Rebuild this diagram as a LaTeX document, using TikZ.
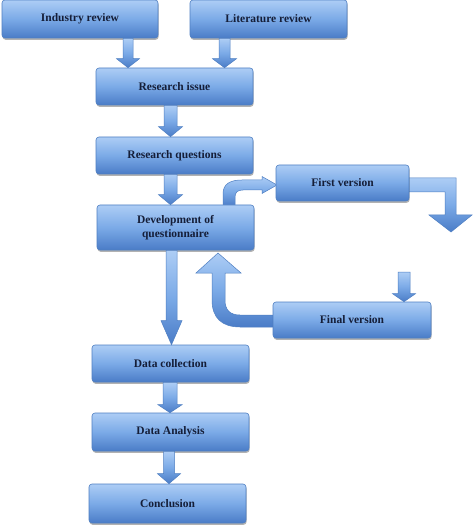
\documentclass[tikz,border=0pt]{standalone}
\usepackage{fontspec}
\setmainfont{Liberation Serif}
\usetikzlibrary{shadows,calc}
\definecolor{bxtop}{HTML}{ADCDF5}
\definecolor{bxmid}{HTML}{7BAAE7}
\definecolor{bxbot}{HTML}{4A7CC7}
\definecolor{bxline}{HTML}{4F7FC2}
\definecolor{txt}{HTML}{151E38}
\tikzset{
 box/.style={rectangle, rounded corners=3pt, draw=bxline, line width=0.6pt,
   top color=bxtop, bottom color=bxbot, middle color=bxmid,
   drop shadow={shadow xshift=0.6pt, shadow yshift=-1.8pt, fill=black, opacity=0.3},
   text=txt, font=\bfseries\fontsize{11.5}{13.5}\selectfont, align=center, inner sep=0pt},
 barrow/.style={draw=bxline, line width=0.5pt, top color=bxtop, bottom color=bxbot, middle color=bxmid},
}
% #1 start, #2 end (y only), #3 half shaft, #4 half head, #5 head length
\newcommand{\blkdown}[5]{%
 \path[barrow] let \p1=(#1), \p2=(#2) in
   (\x1-#3pt,\y1) -- (\x1+#3pt,\y1) -- (\x1+#3pt,\y2+#5pt) -- (\x1+#4pt,\y2+#5pt)
   -- (\x1,\y2) -- (\x1-#4pt,\y2+#5pt) -- (\x1-#3pt,\y2+#5pt) -- cycle;}
\begin{document}
\begin{tikzpicture}[x=1pt,y=-1pt]
\useasboundingbox (0,0) rectangle (474,526);
\fill[white] (0,0) rectangle (474,526);

% curved / bent block arrows drawn behind boxes
\path[barrow] (223,206) -- (223,194) .. controls (223,184) and (230,180) .. (242,180)
  -- (262,180) -- (262,176.5) -- (277,185) -- (262,193.5) -- (262,190) -- (243,190)
  .. controls (238,190) and (235,192) .. (235,197) -- (235,206) -- cycle;
\path[barrow] (408,178) -- (456,178) -- (456,215) -- (472,215) -- (451,232)
  -- (429,215) -- (445,215) -- (445,192) -- (408,192) -- cycle;
\path[barrow] (274,315) -- (240,315) .. controls (230,315) and (225,310) .. (225,300)
  -- (225,273) -- (241,273) -- (218,253) -- (196,273) -- (212,273) -- (212,300)
  .. controls (212,318) and (222,327) .. (240,327) -- (274,327) -- cycle;

\node[box, minimum width=156pt, minimum height=38pt] (ind) at (80,19) {Industry review};
\node[box, minimum width=157pt, minimum height=38pt] (lit) at (268.5,19) {Literature review};
\node[box, minimum width=157pt, minimum height=37pt] (ri) at (174.5,86.5) {Research issue};
\node[box, minimum width=157pt, minimum height=37pt] (rq) at (174.5,155.5) {Research questions};
\node[box, minimum width=157pt, minimum height=45pt] (dev) at (175.5,227.5) {Development of\\questionnaire};
\node[box, minimum width=133pt, minimum height=36pt] (fv) at (342.5,183) {First version};
\node[box, minimum width=158pt, minimum height=36pt] (fin) at (352,320) {Final version};
\node[box, minimum width=157pt, minimum height=37pt] (dc) at (170.5,363.5) {Data collection};
\node[box, minimum width=157pt, minimum height=38pt] (da) at (170.5,432) {Data Analysis};
\node[box, minimum width=157pt, minimum height=39pt] (con) at (167.5,503.5) {Conclusion};

\coordinate (fvin) at (404,272);

\blkdown{$(ind.south)+(48,0)$}{ri.north}{5}{11.5}{9}
\blkdown{$(lit.south)+(-44,0)$}{ri.north}{5.5}{12}{9}
\blkdown{$(ri.south)+(-4,0)$}{rq.north}{6.5}{12}{10}
\blkdown{$(rq.south)+(-4,0)$}{dev.north}{6.5}{12}{10}
\blkdown{$(dev.south)+(-4,0)$}{dc.north}{5.5}{10.5}{24}
\blkdown{$(dc.south)+(-0.5,0)$}{da.north}{7}{12}{8}
\blkdown{$(da.south)+(-1.5,0)$}{con.north}{5.5}{11.5}{10}
\blkdown{fvin}{fin.north}{6}{11.5}{8}
\end{tikzpicture}
\end{document}
